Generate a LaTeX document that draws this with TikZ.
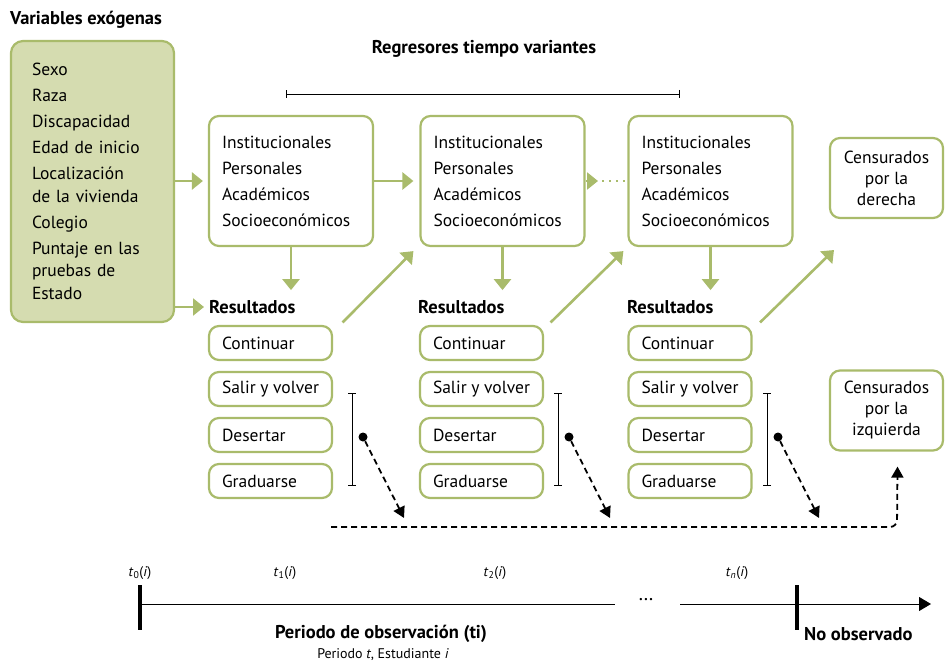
\documentclass[tikz,border=0pt]{standalone}
\usepackage{fontspec}
\setmainfont{PT Sans}
\usetikzlibrary{arrows.meta,calc}
\definecolor{grn}{HTML}{A9BB6B}
\definecolor{grnfill}{HTML}{D5DCB0}
\newcommand{\rtxt}[1]{\makebox[97pt][l]{#1}}
\begin{document}
\begin{tikzpicture}[x=1pt,y=-1pt,
  gbox/.style={draw=grn, line width=2.2pt, rounded corners=10pt, fill=white},
  regbox/.style={gbox, inner xsep=13pt, inner ysep=0pt, text width=138pt, minimum height=130pt, align=left,
     font=\fontsize{17.5}{26}\selectfont},
  resbox/.style={gbox, inner xsep=13pt, inner ysep=0pt, minimum height=34pt,
     font=\fontsize{17.5}{19}\selectfont},
  cenbox/.style={gbox, inner sep=0pt, minimum width=113pt, minimum height=80pt, align=center,
     font=\fontsize{17.5}{21}\selectfont},
  head/.style={font=\fontsize{18.5}{20}\selectfont\bfseries, inner sep=0pt},
  garrow/.style={draw=grn, line width=2.6pt, -{Triangle[length=11pt,width=17pt]}},
  darrow/.style={draw=black, line width=1.8pt, dash pattern=on 6pt off 4pt, -{Triangle[length=11pt,width=12pt]}},
  brk/.style={draw=black, line width=0.9pt, {Bar[width=8pt]}-{Bar[width=8pt]}},
  dotn/.style={circle, fill=black, inner sep=0pt, minimum size=9pt},
  tlab/.style={font=\fontsize{14}{16}\selectfont, inner sep=0pt},
  tick/.style={draw=black, line width=3.5pt}
]
\useasboundingbox (0,0) rectangle (945,663);

% exogenous
\node[head, anchor=west] (exohead) at (10,20) {Variables exógenas};
\node[draw=grn, fill=grnfill, line width=2.2pt, rounded corners=12pt, inner xsep=21pt, inner ysep=0pt,
  text width=121pt, minimum height=281pt, align=left, font=\fontsize{17.5}{22.5}\selectfont]
  (exo) at (92.5,181.5)
  {Sexo\\[3.5pt] Raza\\[3.5pt] Discapacidad\\[3.5pt] Edad de inicio\\[3.5pt] Localización\\de la vivienda\\[3.5pt]
   Colegio\\[3.5pt] Puntaje en las\\pruebas de\\Estado};

% regresores
\node[head] (reghead) at (484,49) {Regresores tiempo variantes};
\coordinate (rbl) at (286,94);
\coordinate (rbr) at (680,94);
\draw[brk] (rbl) -- (rbr);

\node[regbox] (b1) at (291,181) {Institucionales\\Personales\\Académicos\\Socioeconómicos};
\node[regbox] (b2) at (502.5,181) {Institucionales\\Personales\\Académicos\\Socioeconómicos};
\node[regbox] (b3) at (710.5,181) {Institucionales\\Personales\\Académicos\\Socioeconómicos};

\node[cenbox] (cder) at (886.5,178) {Censurados\\por la\\derecha};
\node[cenbox] (cizq) at (886.5,410.5) {Censurados\\por la\\izquierda};

% resultados
\foreach \i/\x in {1/209, 2/418, 3/627} {
  \node[head, anchor=west] (r\i) at (\x,307) {Resultados};
}
\foreach \i/\x in {1/270.5, 2/481.5, 3/690} {
  \node[resbox] (c\i) at (\x,343) {\rtxt{Continuar}};
  \node[resbox] (s\i) at (\x,389) {\rtxt{Salir y volver}};
  \node[resbox] (d\i) at (\x,435) {\rtxt{Desertar}};
  \node[resbox] (g\i) at (\x,481) {\rtxt{Graduarse}};
}

% green arrows
\draw[garrow, shorten >=5pt] (exo.east |- b1.west) -- (b1.west);
\draw[garrow, shorten >=5pt] (exo.east |- r1.west) -- (r1.west);
\draw[garrow, shorten >=6pt] (b1.east) -- (b2.west);
\coordinate (dd) at (598,181);
\draw[garrow] (b2.east) -- (dd);
\draw[grn, line width=2.2pt, dash pattern=on 2pt off 5pt] ($(dd)+(4,0)$) -- (b3.west);
\foreach \i in {1,2,3} {
  \draw[garrow] (b\i.south) -- ($(b\i.south)+(0,43)$);
}
\draw[garrow, shorten <=2pt] ($(c1.north east)+(8,-1)$) -- ($(b2.south west)+(-6,4)$);
\draw[garrow, shorten <=2pt] ($(c2.north east)+(5,-1)$) -- ($(b3.south west)+(-4,4)$);
\coordinate (cdtip) at (834,250);
\draw[garrow, shorten <=2pt] ($(c3.north east)+(6,-1)$) -- (cdtip);

% black brackets, dots, dashed arrows
\foreach \i/\x in {1/352, 2/558, 3/767} {
  \coordinate (bt\i) at (\x,393);
  \coordinate (bb\i) at (\x,486);
  \draw[brk] (bt\i) -- (bb\i);
  \node[dotn] (dot\i) at (\x+11,437) {};
  \coordinate (tip\i) at (\x+52,518);
  \draw[darrow] (dot\i) -- (tip\i);
}
\coordinate (hl) at (331,527);
\draw[darrow, rounded corners=7pt] (hl) -- (897,527) -- ($(cizq.south)+(11,15)$);

% timeline
\coordinate (t0) at (140,604);
\coordinate (ta) at (615,604);
\coordinate (tb) at (680,604);
\coordinate (tend) at (931,604);
\draw[line width=0.9pt] (t0) -- (ta);
\draw[line width=0.9pt, -{Triangle[length=12pt,width=14pt]}] (tb) -- (tend);
\node[font=\fontsize{20}{20}\selectfont, inner sep=0pt] (tdots) at (646,600) {\dots};
\draw[tick] (140,585) -- (140,630);
\coordinate (tn) at (797,604);
\draw[tick] (797,585) -- (797,630);

\node[tlab] (l0) at (140,573) {\textit{t}\textsubscript{0}(\textit{i})};
\node[tlab] (l1) at (285,573) {\textit{t}\textsubscript{1}(\textit{i})};
\node[tlab] (l2) at (495,573) {\textit{t}\textsubscript{2}(\textit{i})};
\node[tlab] (ln) at (737,573) {\textit{t}\textsubscript{\textit{n}}(\textit{i})};

\node[head] (per) at (381,634) {Periodo de observación (ti)};
\node[tlab] (pers) at (383,655) {Periodo \textit{t}, Estudiante \textit{i}};
\node[head, anchor=west] (noobs) at (804,634) {No observado};
\end{tikzpicture}
\end{document}
